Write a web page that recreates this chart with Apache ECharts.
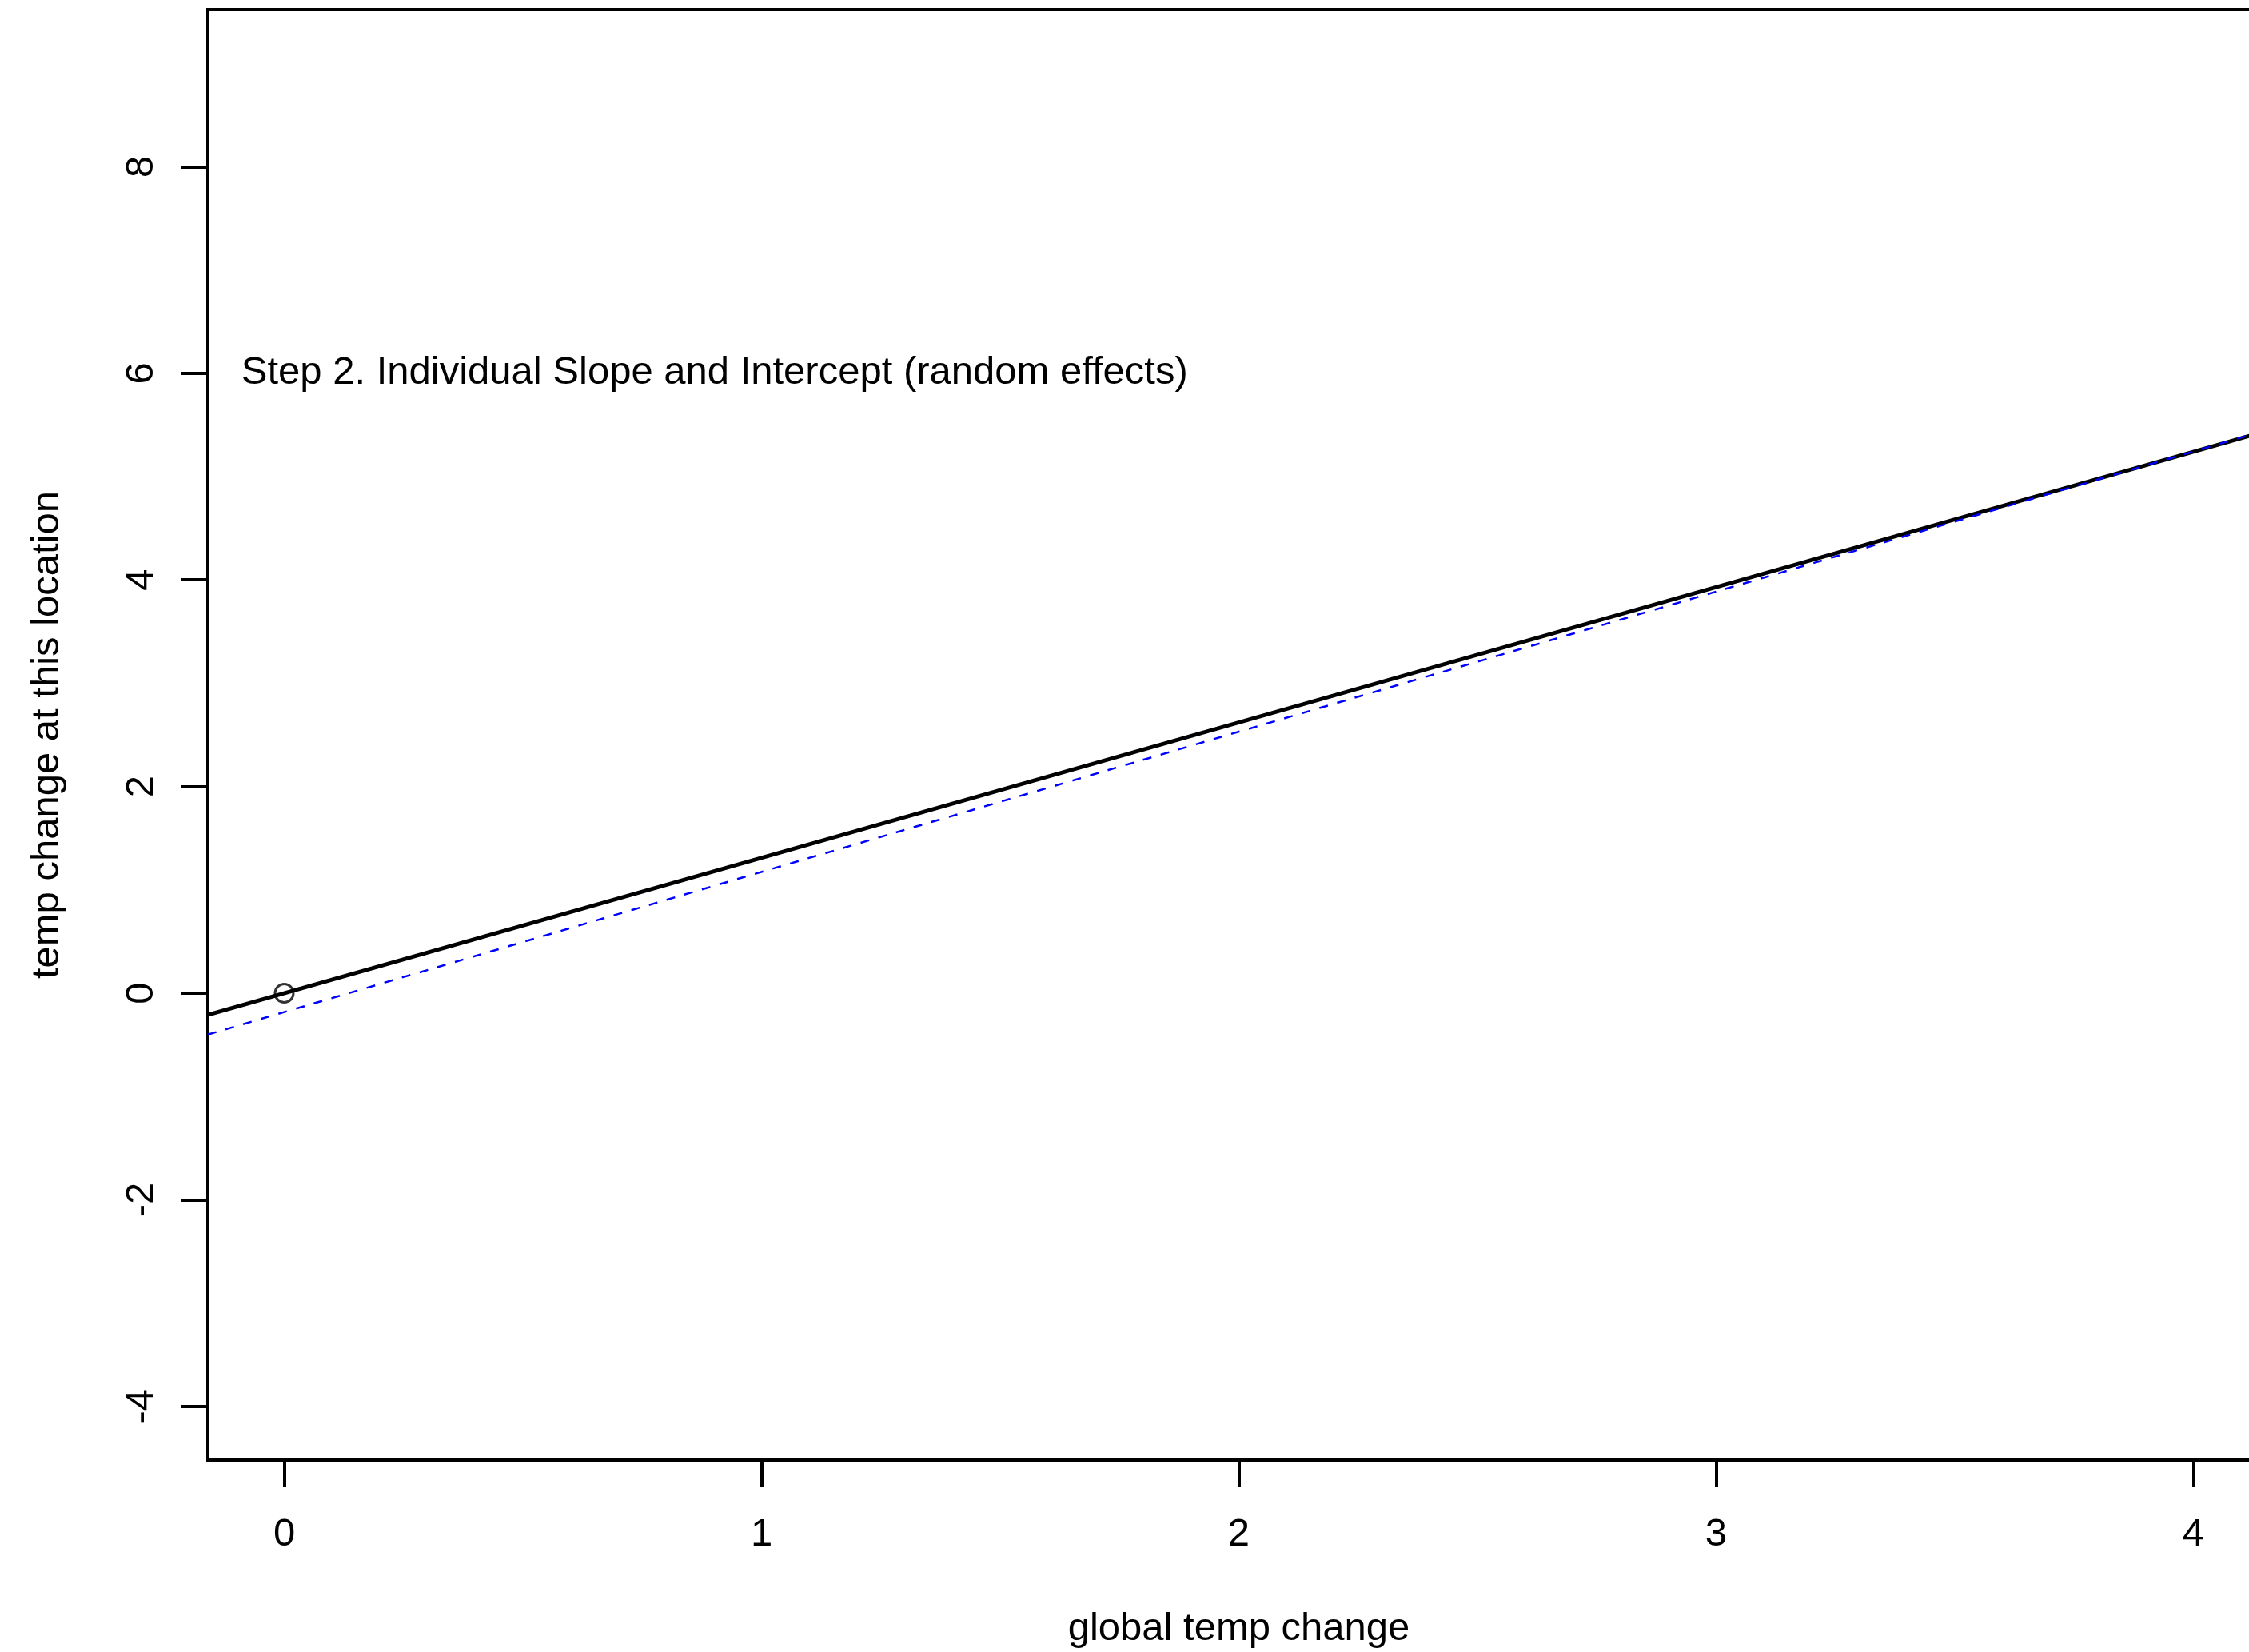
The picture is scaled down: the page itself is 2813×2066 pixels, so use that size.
<!DOCTYPE html>
<html>
<head>
<meta charset="utf-8">
<script src="https://cdn.jsdelivr.net/npm/echarts@6/dist/echarts.min.js"></script>
<style>
  html, body { margin: 0; padding: 0; background: #fff; }
  #chart { width: 2813px; height: 2066px; }
</style>
</head>
<body>
<div id="chart"></div>
<script>
// axis ranges (R style, 4% padding) and tick positions
const xRange = [-0.16, 4.16];
const yRange = [-4.52, 9.52];
const xTicks = [0, 1, 2, 3, 4];
const yTicks = [-4, -2, 0, 2, 4, 6, 8];

// fitted lines, read at the plot edges
const fixedLine = [[-0.16, -0.21], [4.16, 5.45]];
const randomLine = [[-0.16, -0.40], [4.16, 5.46]];

// observed point
const points = [[0, 0]];

// annotation
const noteText = "Step 2. Individual Slope and Intercept (random effects)";
const notePos = [[-0.09, 6.0]];

const font = '"Liberation Sans", Arial, sans-serif';
const fs = 49;

const chart = echarts.init(document.getElementById("chart"), null, { renderer: "canvas" });

chart.setOption({
  backgroundColor: "#ffffff",
  animation: false,
  textStyle: { fontFamily: font, color: "#000" },
  grid: {
    left: 260,
    top: 12,
    width: 2579,
    height: 1814,
    outerBoundsMode: "none",
    show: true,
    borderColor: "#000",
    borderWidth: 4,
    backgroundColor: "transparent",
  },
  xAxis: {
    type: "value",
    min: xRange[0],
    max: xRange[1],
    name: "global temp change",
    nameLocation: "middle",
    nameGap: 187,
    nameTextStyle: { fontSize: fs, fontFamily: font, color: "#000" },
    axisLine: { show: false, onZero: false },
    splitLine: { show: false },
    axisTick: {
      show: true,
      length: 34,
      customValues: xTicks,
      lineStyle: { color: "#000", width: 4 },
    },
    axisLabel: {
      customValues: xTicks,
      margin: 69,
      fontSize: fs,
      fontFamily: font,
      color: "#000",
    },
  },
  yAxis: {
    type: "value",
    min: yRange[0],
    max: yRange[1],
    name: "temp change at this location",
    nameLocation: "middle",
    nameRotate: 90,
    nameGap: 176,
    nameTextStyle: { fontSize: fs, fontFamily: font, color: "#000" },
    axisLine: { show: false, onZero: false },
    splitLine: { show: false },
    axisTick: {
      show: true,
      length: 34,
      customValues: yTicks,
      lineStyle: { color: "#000", width: 4 },
    },
    axisLabel: {
      customValues: yTicks,
      rotate: 90,
      margin: 58,
      fontSize: fs,
      fontFamily: font,
      color: "#000",
    },
  },
  series: [
    {
      name: "fixed",
      type: "line",
      data: fixedLine,
      showSymbol: false,
      clip: true,
      lineStyle: { color: "#000", width: 5 },
      z: 2,
    },
    {
      name: "random",
      type: "line",
      data: randomLine,
      showSymbol: false,
      clip: true,
      lineStyle: { color: "#0000ff", width: 2.5, type: [11, 12] },
      z: 3,
    },
    {
      name: "obs",
      type: "scatter",
      data: points,
      symbol: "circle",
      symbolSize: 23,
      itemStyle: { color: "transparent", borderColor: "#000", borderWidth: 3 },
      z: 4,
    },
    {
      name: "note",
      type: "scatter",
      data: notePos,
      symbolSize: 0,
      label: {
        show: true,
        position: "right",
        distance: 0,
        formatter: noteText,
        fontSize: fs,
        fontFamily: font,
        color: "#000000",
        opacity: 1,
      },
      z: 5,
    },
  ],
});
</script>
</body>
</html>
